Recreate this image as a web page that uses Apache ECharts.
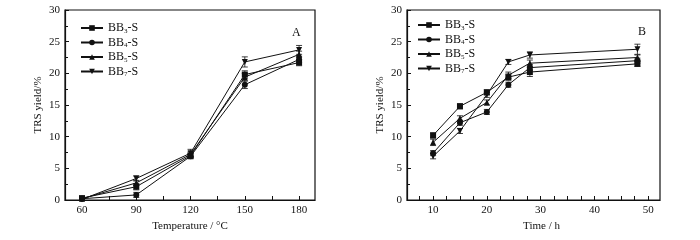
<!DOCTYPE html>
<html>
<head>
<meta charset="utf-8">
<script src="https://cdn.jsdelivr.net/npm/echarts@6/dist/echarts.min.js"></script>
<style>
  html, body { margin: 0; padding: 0; background: #fff; }
  #main { width: 700px; height: 240px; }
</style>
</head>
<body>
<div id="main"></div>
<script>
// series names (digit after BB is drawn as subscript)
var names = ['BB3-S', 'BB4-S', 'BB5-S', 'BB7-S'];
var symbols = ['rect', 'circle', 'triangle', 'triangle'];
var rotates = [0, 0, 0, 180];

// panel A : temperature
var tempX = [60, 90, 120, 150, 180];
var tempBB3 = [0.3, 2.1, 7.0, 19.8, 21.7];
var tempBB4 = [0.2, 0.8, 6.9, 18.2, 22.2];
var tempBB5 = [0.2, 2.7, 7.2, 19.4, 23.0];
var tempBB7 = [0.1, 3.4, 7.4, 21.8, 23.7];
var tempErr3 = [0.2, 0.5, 0.4, 0.6, 0.5];
var tempErr4 = [0.2, 0.4, 0.4, 0.6, 0.5];
var tempErr5 = [0.2, 0.4, 0.4, 0.6, 0.5];
var tempErr7 = [0.2, 0.4, 0.6, 0.8, 0.7];
var tempTicks = [60, 75, 90, 105, 120, 135, 150, 165, 180];
var tempLabels = [60, 90, 120, 150, 180];

// panel B : time
var timeX = [10, 15, 20, 24, 28, 48];
var timeBB3 = [10.2, 14.8, 17.0, 19.4, 20.2, 21.5];
var timeBB4 = [7.4, 12.2, 13.9, 18.2, 20.9, 22.0];
var timeBB5 = [9.1, 12.9, 15.4, 19.7, 21.6, 22.5];
var timeBB7 = [6.9, 10.9, 16.6, 21.8, 22.9, 23.8];
var timeErr3 = [0.4, 0.4, 0.4, 0.5, 0.7, 0.4];
var timeErr4 = [0.4, 0.4, 0.4, 0.4, 0.5, 0.4];
var timeErr5 = [0.5, 0.4, 0.4, 0.5, 0.5, 0.4];
var timeErr7 = [0.4, 0.4, 0.4, 0.4, 0.5, 0.8];
var timeTicks = [7.5, 10, 12.5, 15, 17.5, 20, 22.5, 25, 27.5, 30, 32.5, 35, 37.5, 40, 42.5, 45, 47.5, 50];
var timeLabels = [10, 20, 30, 40, 50];

var yTicksMax = 30;

var FONT = 'Liberation Serif';
var INK = '#111';

var chart = echarts.init(document.getElementById('main'), null, { renderer: 'canvas' });

function legendFmt(name) {
  // BB3-S -> BB{s|3}-S
  return 'BB{s|' + name.charAt(2) + '}' + name.slice(3);
}

function lineSeries(i, idx, xs, ys) {
  return {
    name: names[i],
    type: 'line',
    xAxisIndex: idx,
    yAxisIndex: idx,
    data: xs.map(function (x, k) { return [x, ys[k]]; }),
    symbol: symbols[i],
    symbolRotate: rotates[i],
    symbolSize: 6,
    showAllSymbol: true,
    lineStyle: { color: INK, width: 1 },
    itemStyle: { color: INK },
    z: 3,
    animation: false
  };
}

function errSeries(idx, xs, ys, es) {
  return {
    type: 'custom',
    xAxisIndex: idx,
    yAxisIndex: idx,
    data: xs.map(function (x, k) { return [x, ys[k] - es[k], ys[k] + es[k]]; }),
    renderItem: function (params, api) {
      var lo = api.coord([api.value(0), api.value(1)]);
      var hi = api.coord([api.value(0), api.value(2)]);
      var w = 3;
      var st = { stroke: INK, lineWidth: 0.8 };
      return {
        type: 'group',
        children: [
          { type: 'line', shape: { x1: lo[0], y1: lo[1], x2: hi[0], y2: hi[1] }, style: st },
          { type: 'line', shape: { x1: lo[0] - w, y1: lo[1], x2: lo[0] + w, y2: lo[1] }, style: st },
          { type: 'line', shape: { x1: hi[0] - w, y1: hi[1], x2: hi[0] + w, y2: hi[1] }, style: st }
        ]
      };
    },
    silent: true,
    z: 2,
    animation: false
  };
}

function yAxisCfg(idx) {
  return {
    type: 'value',
    gridIndex: idx,
    min: 0,
    max: yTicksMax,
    interval: 5,
    name: 'TRS yield/%',
    nameLocation: 'middle',
    nameGap: 21,
    nameTextStyle: { fontFamily: FONT, fontSize: 11, color: INK },
    axisLine: { show: true, lineStyle: { color: INK, width: 1.2 } },
    axisTick: { show: true, inside: true, length: 4, lineStyle: { color: INK } },
    minorTick: { show: true, splitNumber: 2, length: 3, lineStyle: { color: INK } },
    axisLabel: { fontFamily: FONT, fontSize: 11, color: INK, margin: 5 },
    splitLine: { show: false }
  };
}

function legendCfg(left, top) {
  return {
    data: names,
    orient: 'vertical',
    left: left,
    top: top,
    itemWidth: 22,
    itemHeight: 7,
    itemGap: 2,
    padding: 0,
    formatter: legendFmt,
    textStyle: {
      fontFamily: FONT, fontSize: 12, color: INK,
      rich: { s: { fontFamily: FONT, fontSize: 7, color: INK, padding: [6, 0, 0, 0] } }
    },
    selectedMode: false
  };
}

var option = {
  backgroundColor: '#fff',
  animation: false,
  grid: [
    { left: 65, top: 10, width: 250, height: 190, show: true, borderColor: INK, borderWidth: 1.2 },
    { left: 407, top: 10, width: 253, height: 190, show: true, borderColor: INK, borderWidth: 1.2 }
  ],
  title: [
    { text: 'A', left: 287, top: 22, textStyle: { fontFamily: FONT, fontSize: 12, fontWeight: 'normal', color: INK } },
    { text: 'B', left: 633, top: 21, textStyle: { fontFamily: FONT, fontSize: 12, fontWeight: 'normal', color: INK } }
  ],
  legend: [legendCfg(80, 22), legendCfg(417, 19)],
  xAxis: [
    {
      type: 'value', gridIndex: 0, min: 50.6, max: 188.8,
      name: 'Temperature / °C', nameLocation: 'middle', nameGap: 19,
      nameTextStyle: { fontFamily: FONT, fontSize: 11, color: INK },
      axisLine: { show: true, lineStyle: { color: INK, width: 1.2 } },
      axisTick: { show: true, inside: true, length: 4, customValues: tempTicks, lineStyle: { color: INK } },
      axisLabel: { fontFamily: FONT, fontSize: 11, color: INK, margin: 5, customValues: tempLabels },
      splitLine: { show: false }
    },
    {
      type: 'value', gridIndex: 1, min: 5.15, max: 52.2,
      name: 'Time / h', nameLocation: 'middle', nameGap: 19,
      nameTextStyle: { fontFamily: FONT, fontSize: 11, color: INK, padding: [0, 0, 0, 16] },
      axisLine: { show: true, lineStyle: { color: INK, width: 1.2 } },
      axisTick: { show: true, inside: true, length: 4, customValues: timeTicks, lineStyle: { color: INK } },
      axisLabel: { fontFamily: FONT, fontSize: 11, color: INK, margin: 5, customValues: timeLabels },
      splitLine: { show: false }
    }
  ],
  yAxis: [yAxisCfg(0), yAxisCfg(1)],
  series: [
    lineSeries(0, 0, tempX, tempBB3),
    lineSeries(1, 0, tempX, tempBB4),
    lineSeries(2, 0, tempX, tempBB5),
    lineSeries(3, 0, tempX, tempBB7),
    errSeries(0, tempX, tempBB3, tempErr3),
    errSeries(0, tempX, tempBB4, tempErr4),
    errSeries(0, tempX, tempBB5, tempErr5),
    errSeries(0, tempX, tempBB7, tempErr7),
    lineSeries(0, 1, timeX, timeBB3),
    lineSeries(1, 1, timeX, timeBB4),
    lineSeries(2, 1, timeX, timeBB5),
    lineSeries(3, 1, timeX, timeBB7),
    errSeries(1, timeX, timeBB3, timeErr3),
    errSeries(1, timeX, timeBB4, timeErr4),
    errSeries(1, timeX, timeBB5, timeErr5),
    errSeries(1, timeX, timeBB7, timeErr7)
  ]
};

chart.setOption(option);
</script>
</body>
</html>
